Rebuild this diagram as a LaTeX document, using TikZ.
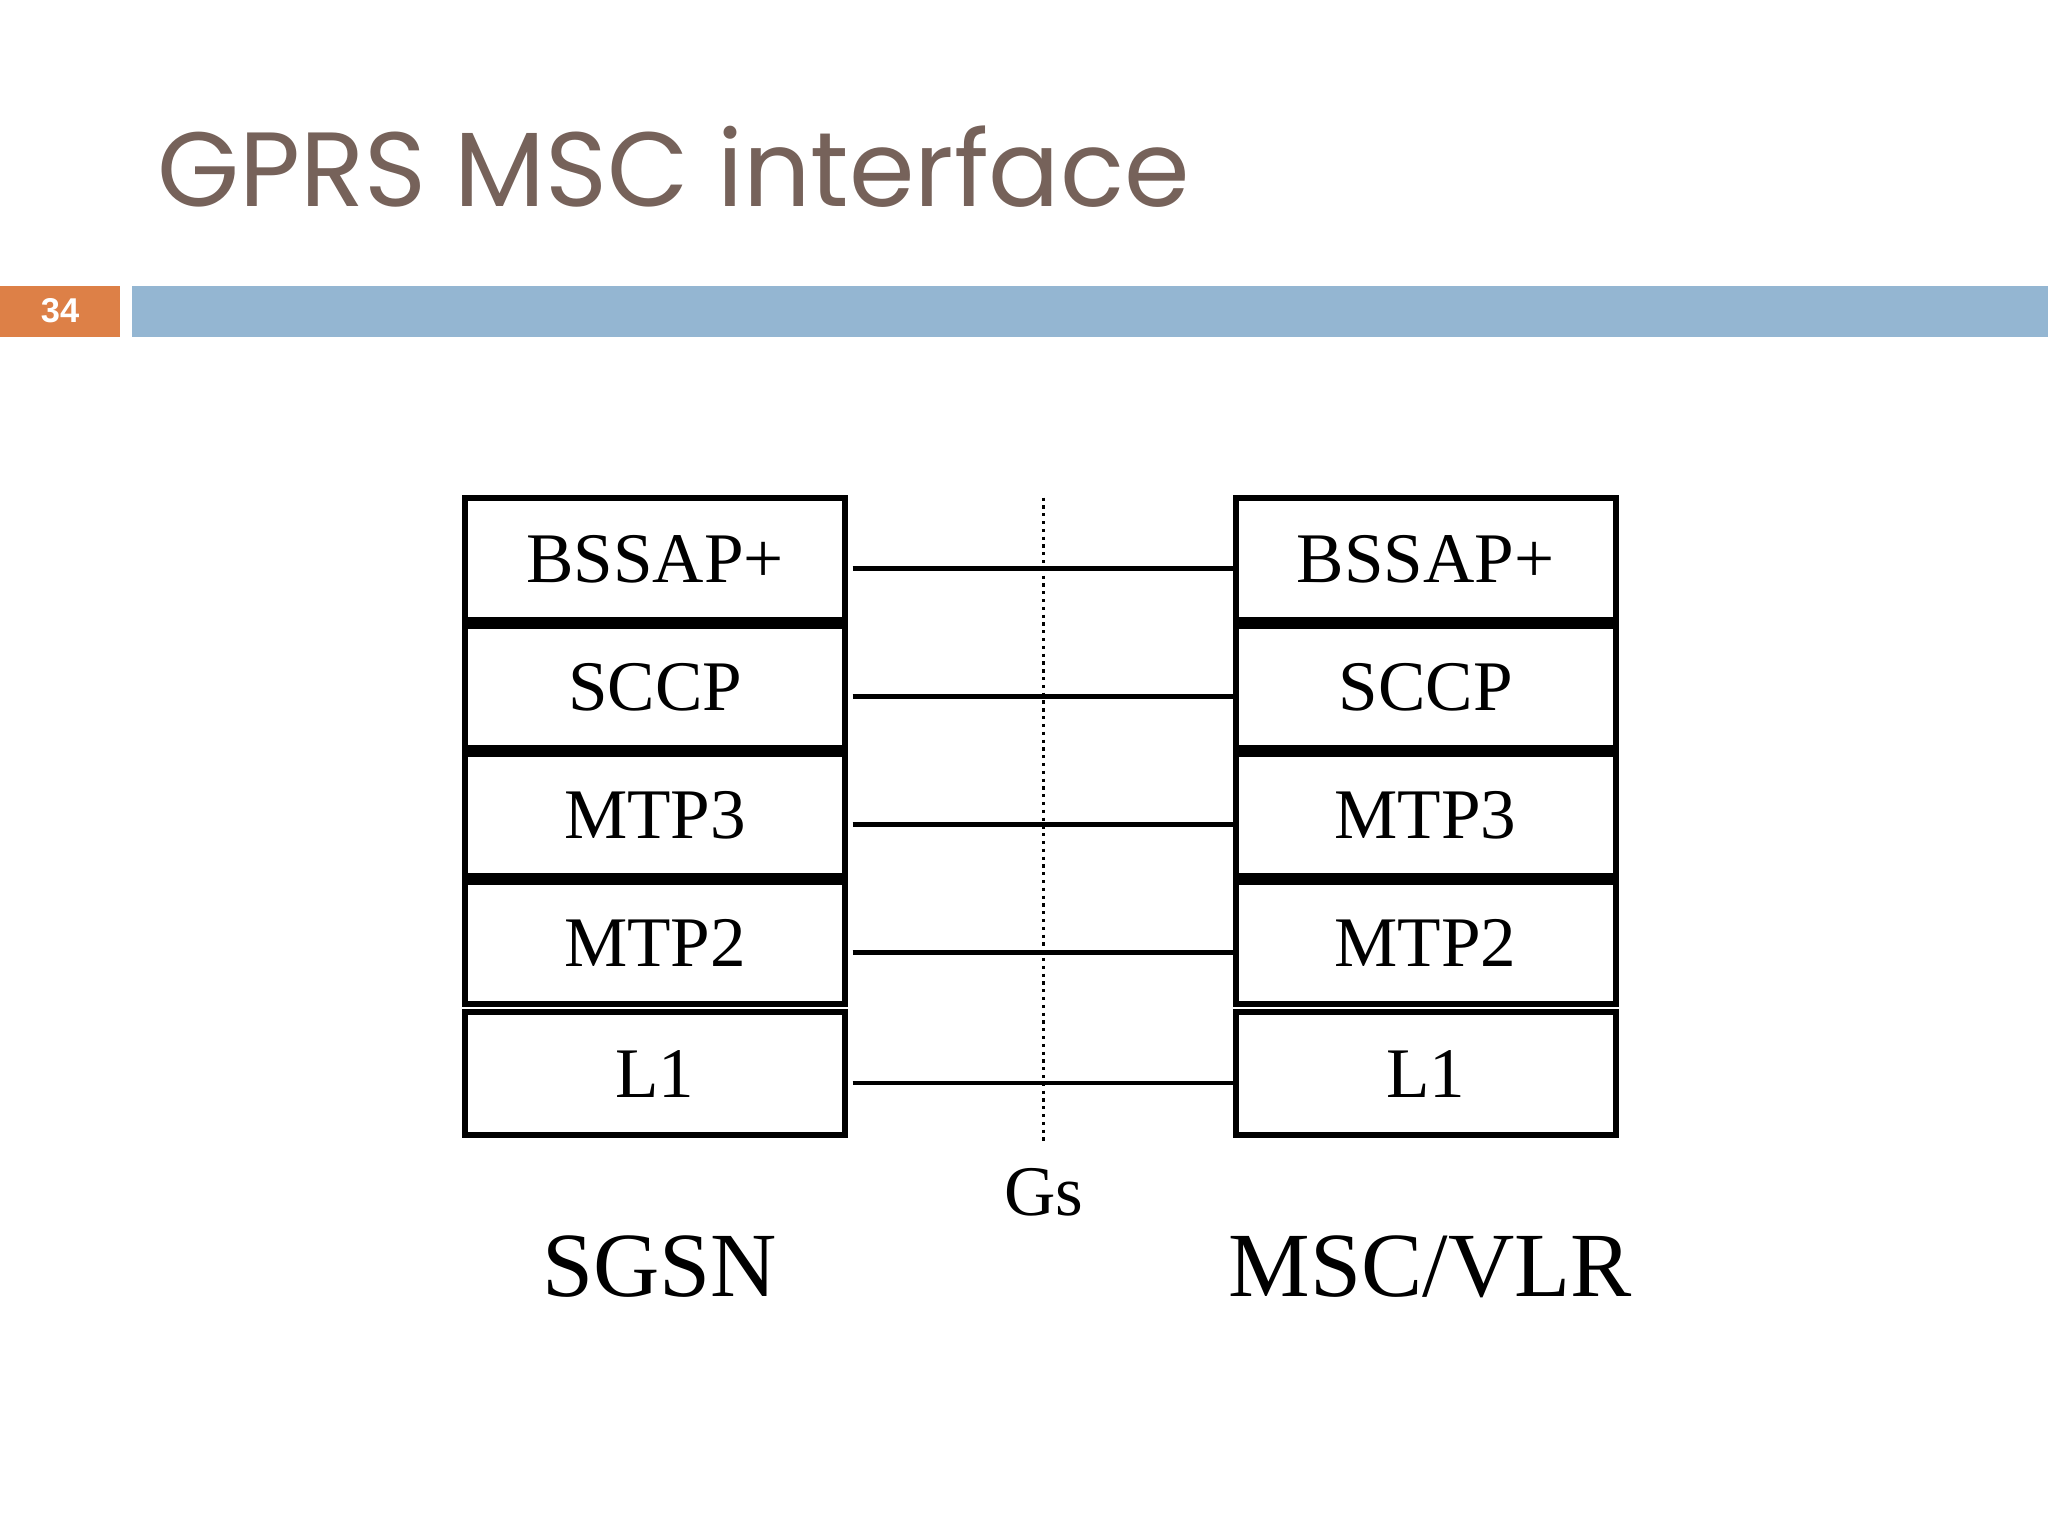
\documentclass[tikz,border=0pt]{standalone}
\usepackage{fontspec}
\setmainfont{Liberation Serif}
\newfontfamily\titlefont{Poppins}
\newfontfamily\numfont{Liberation Sans}
\definecolor{titlec}{HTML}{76625A}
\definecolor{barblue}{HTML}{94B6D2}
\definecolor{barorange}{HTML}{DD8047}
\begin{document}
\begin{tikzpicture}[x=0.02cm,y=-0.02cm,
  layer/.style={draw,line width=2.6pt,minimum width=5.82cm,minimum height=1.88cm,inner sep=0pt,font=\fontsize{31}{31}\selectfont},
  link/.style={line width=2pt}]
\useasboundingbox[fill=white] (0,0) rectangle (1568,1176);
\node[anchor=base west,inner sep=0pt,text=titlec,font=\titlefont\fontsize{46}{46}\selectfont] (title) at (120,158) {GPRS MSC interface};
\fill[barorange] (0,219) rectangle (92,258);
\node[text=white,font=\numfont\bfseries\fontsize{15}{15}\selectfont] (num) at (46,238) {34};
\fill[barblue] (101,219) rectangle (1568,258);
\foreach \i/\t/\y in {1/BSSAP+/428,2/SCCP/526,3/MTP3/624,4/MTP2/722,5/L1/822}{
  \node[layer] (l\i) at (501.5,\y) {\t};
  \node[layer] (r\i) at (1091.5,\y) {\t};
  \draw[link] ([xshift=2pt,yshift=-4pt]l\i.east) -- ([yshift=-4pt]r\i.west);
}
\coordinate (gt) at (799,381);
\coordinate (gb) at (799,875);
\draw[line width=1.4pt,dotted] (gt) -- (gb);
\node[font=\fontsize{31}{31}\selectfont] (gs) at (799,913) {Gs};
\node[font=\fontsize{40}{40}\selectfont] (sgsn) at (505,970) {SGSN};
\node[font=\fontsize{40}{40}\selectfont] (msc) at (1095,970) {MSC/VLR};
\end{tikzpicture}
\end{document}
